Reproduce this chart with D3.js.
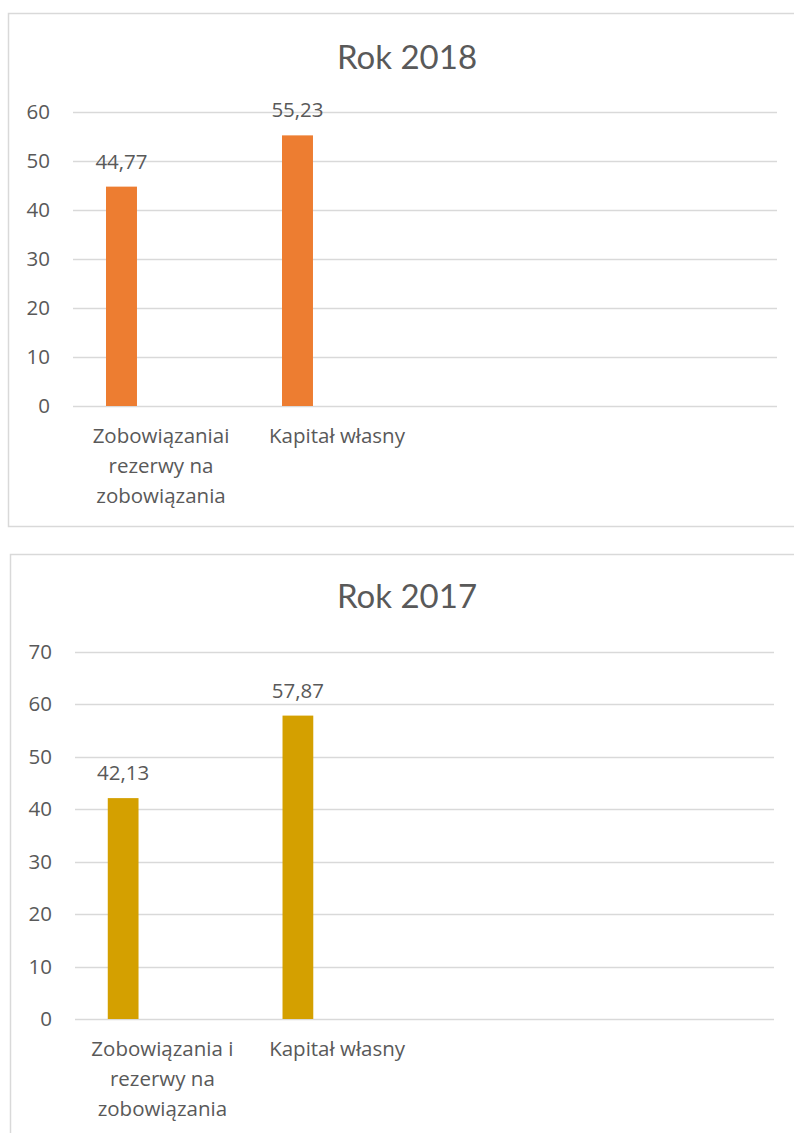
<!DOCTYPE html>
<html>
<head>
<meta charset="utf-8">
<script src="https://cdn.jsdelivr.net/npm/d3@7"></script>
<style>
  body { margin: 0; background: #fff; }
  svg { display: block; }
</style>
</head>
<body>
<div id="charts"></div>
<script>
// Chart data
const categories2018 = [
    ["Zobowiązaniai", "rezerwy na", "zobowiązania"],
    ["Kapitał własny"],
    [""],
    [""]
];
const values2018 = [44.77, 55.23, null, null];
const ticks2018 = [0, 10, 20, 30, 40, 50, 60];

const categories2017 = [
    ["Zobowiązania i", "rezerwy na", "zobowiązania"],
    ["Kapitał własny"],
    [""],
    [""]
];
const values2017 = [42.13, 57.87, null, null];
const ticks2017 = [0, 10, 20, 30, 40, 50, 60, 70];

const width = 794;
const height = 1133;
const textColor = "#595959";
const gridColor = "#d9d9d9";
const titleFont = "Lato, 'Open Sans', sans-serif";
const labelFont = "'Open Sans', Lato, sans-serif";
const labelSize = 20.5;

// Polish number format (decimal comma)
const plFormat = d3.formatLocale({ decimal: ",", thousands: " ", grouping: [3], currency: ["", " zł"] }).format(".2f");

const svg = d3.select("#charts")
    .append("svg")
    .attr("width", width)
    .attr("height", height);

/**
 * Draw one bar chart panel
 */
function drawChart(opts) {
    const g = svg.append("g");

    // outer frame
    g.append("rect")
        .attr("x", opts.box.x + 0.5)
        .attr("y", opts.box.y + 0.5)
        .attr("width", opts.box.w)
        .attr("height", opts.box.h)
        .attr("fill", "none")
        .attr("stroke", gridColor)
        .attr("stroke-width", 1.5);

    // title
    g.append("text")
        .attr("x", opts.titleX)
        .attr("y", opts.titleY)
        .attr("text-anchor", "middle")
        .attr("font-family", titleFont)
        .attr("font-size", 33)
        .attr("fill", textColor)
        .text(opts.title);

    const x = d3.scaleBand()
        .domain(d3.range(opts.categories.length))
        .range([opts.left, opts.right]);

    const y = d3.scaleLinear()
        .domain([0, d3.max(opts.ticks)])
        .range([opts.bottom, opts.top]);

    // gridlines
    g.append("g")
        .selectAll("line")
        .data(opts.ticks)
        .enter()
        .append("line")
        .attr("x1", opts.left)
        .attr("x2", opts.right)
        .attr("y1", d => Math.round(y(d)) + 0.5)
        .attr("y2", d => Math.round(y(d)) + 0.5)
        .attr("stroke", gridColor)
        .attr("stroke-width", 1.3);

    // y axis labels
    const yAxis = g.append("g")
        .attr("transform", `translate(${opts.left}, 0)`)
        .call(d3.axisLeft(y).tickValues(opts.ticks).tickSize(0).tickPadding(opts.left - opts.labelRight));
    yAxis.select(".domain").remove();
    yAxis.selectAll("text")
        .attr("font-family", labelFont)
        .attr("font-size", labelSize)
        .attr("fill", textColor);

    // bars (first slot of each category cluster)
    const barW = x.bandwidth() * 0.176;
    const barOffset = x.bandwidth() * 0.1875;
    const barData = opts.values.map((v, i) => ({ i, v })).filter(d => d.v !== null);

    g.append("g")
        .selectAll("rect")
        .data(barData)
        .enter()
        .append("rect")
        .attr("x", d => x(d.i) + barOffset)
        .attr("y", d => y(d.v))
        .attr("width", barW)
        .attr("height", d => y(0) - y(d.v))
        .attr("fill", opts.color);

    // value labels
    g.append("g")
        .selectAll("text")
        .data(barData)
        .enter()
        .append("text")
        .attr("x", d => x(d.i) + barOffset + barW / 2)
        .attr("y", d => y(d.v) - 18)
        .attr("text-anchor", "middle")
        .attr("font-family", labelFont)
        .attr("font-size", labelSize)
        .attr("fill", textColor)
        .text(d => plFormat(d.v));

    // category labels (wrapped)
    const cat = g.append("g")
        .selectAll("text")
        .data(opts.categories)
        .enter()
        .append("text")
        .attr("x", (d, i) => x(i) + x.bandwidth() / 2)
        .attr("y", opts.bottom + 37)
        .attr("text-anchor", "middle")
        .attr("font-family", labelFont)
        .attr("font-size", labelSize)
        .attr("fill", textColor);

    cat.selectAll("tspan")
        .data((d, i) => d.map(line => ({ line, i })))
        .enter()
        .append("tspan")
        .attr("x", d => x(d.i) + x.bandwidth() / 2)
        .attr("dy", (d, j) => j === 0 ? 0 : 30)
        .text(d => d.line);
}

drawChart({
    title: "Rok 2018",
    categories: categories2018,
    values: values2018,
    ticks: ticks2018,
    color: "#ed7d31",
    box: { x: 8, y: 13, w: 800, h: 513 },
    titleX: 407, titleY: 69,
    left: 73, right: 777, top: 112, bottom: 406,
    labelRight: 50
});

drawChart({
    title: "Rok 2017",
    categories: categories2017,
    values: values2017,
    ticks: ticks2017,
    color: "#d4a000",
    box: { x: 10, y: 554, w: 800, h: 600 },
    titleX: 407, titleY: 608,
    left: 75, right: 774, top: 652, bottom: 1019,
    labelRight: 52
});
</script>
</body>
</html>
